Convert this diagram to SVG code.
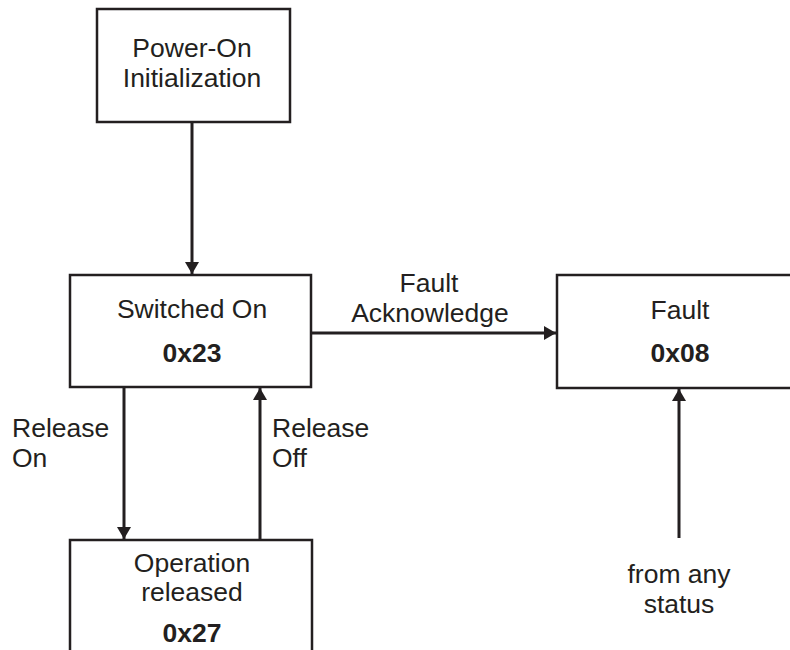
<svg xmlns="http://www.w3.org/2000/svg" width="790" height="650" viewBox="0 0 790 650">
<defs>
<marker id="arr" markerWidth="12" markerHeight="14" refX="12" refY="7" orient="auto" markerUnits="userSpaceOnUse">
<path d="M0,0 L12,7 L0,14 Z" fill="#231f20"/>
</marker>
<style>
.box{fill:#fff;stroke:#231f20;stroke-width:2.5}
.t{font-family:"Liberation Sans",Arial,sans-serif;font-size:26.5px;fill:#231f20;text-anchor:middle}
.b{font-weight:bold}
.l{text-anchor:start}
.c{stroke:#231f20;stroke-width:3;fill:none;marker-end:url(#arr)}
</style>
</defs>
<rect width="790" height="650" fill="#fff"/>
<g id="power-on">
<rect class="box" x="97" y="9" width="193" height="113"/>
<text class="t" x="192" y="57">Power-On</text>
<text class="t" x="192" y="87">Initialization</text>
</g>
<g id="switched-on">
<rect class="box" x="70" y="275" width="241" height="112"/>
<text class="t" x="192" y="318">Switched On</text>
<text class="t b" x="192" y="362">0x23</text>
</g>
<g id="fault">
<rect class="box" x="557" y="275" width="246" height="113"/>
<text class="t" x="680" y="319">Fault</text>
<text class="t b" x="680" y="362">0x08</text>
</g>
<g id="operation-released">
<rect class="box" x="70" y="540" width="242" height="130"/>
<text class="t" x="192" y="572">Operation</text>
<text class="t" x="192" y="601">released</text>
<text class="t b" x="192" y="642">0x27</text>
</g>
<g id="connectors">
<line class="c" x1="192" y1="122" x2="192" y2="274"/>
<line class="c" x1="311" y1="333" x2="556" y2="333"/>
<line class="c" x1="124" y1="387" x2="124" y2="539"/>
<line class="c" x1="260" y1="540" x2="260" y2="388"/>
<line class="c" x1="679" y1="538" x2="679" y2="389"/>
<text class="t" x="429" y="292">Fault</text>
<text class="t" x="430" y="322">Acknowledge</text>
<text class="t l" x="12" y="437">Release</text>
<text class="t l" x="12" y="467">On</text>
<text class="t l" x="272" y="437">Release</text>
<text class="t l" x="272" y="467">Off</text>
<text class="t" x="679" y="583">from any</text>
<text class="t" x="679" y="613">status</text>
</g>
</svg>
